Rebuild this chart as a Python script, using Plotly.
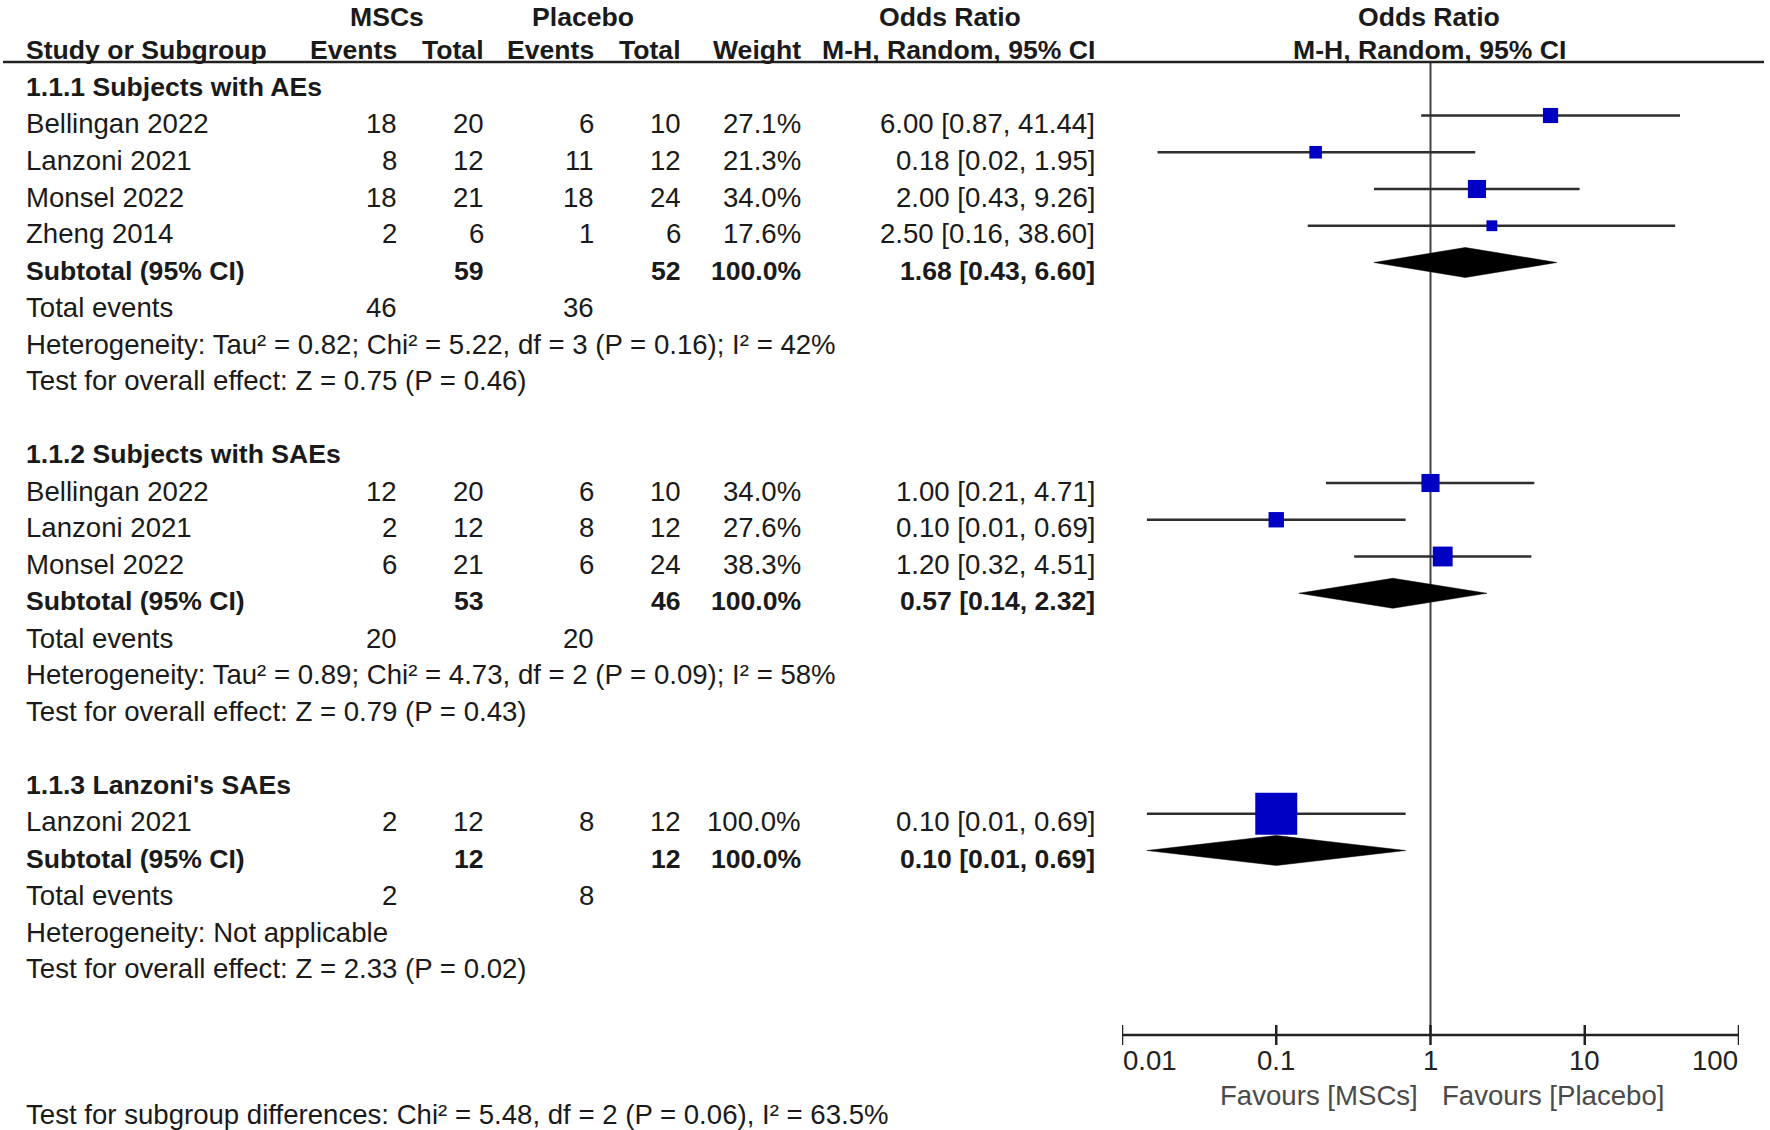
import math
import plotly.graph_objects as go

# ---------------- data ----------------
group_titles = ["1.1.1 Subjects with AEs", "1.1.2 Subjects with SAEs", "1.1.3 Lanzoni's SAEs"]

study_group = [0, 0, 0, 0, 1, 1, 1, 2]
study_names = ["Bellingan 2022", "Lanzoni 2021", "Monsel 2022", "Zheng 2014",
               "Bellingan 2022", "Lanzoni 2021", "Monsel 2022",
               "Lanzoni 2021"]
msc_events = [18, 8, 18, 2, 12, 2, 6, 2]
msc_total = [20, 12, 21, 6, 20, 12, 21, 12]
pla_events = [6, 11, 18, 1, 6, 8, 6, 8]
pla_total = [10, 12, 24, 6, 10, 12, 24, 12]
weights = [27.1, 21.3, 34.0, 17.6, 34.0, 27.6, 38.3, 100.0]
or_est = [6.00, 0.18, 2.00, 2.50, 1.00, 0.10, 1.20, 0.10]
ci_lo = [0.87, 0.017, 0.43, 0.16, 0.21, 0.0145, 0.32, 0.0145]
ci_hi = [41.44, 1.95, 9.26, 38.60, 4.71, 0.69, 4.51, 0.69]

sub_msc_total = [59, 53, 12]
sub_pla_total = [52, 46, 12]
sub_or = [1.68, 0.57, 0.10]
sub_lo = [0.43, 0.14, 0.0145]
sub_hi = [6.60, 2.32, 0.69]
tot_msc_events = [46, 20, 2]
tot_pla_events = [36, 20, 8]

heterogeneity = [
    "Heterogeneity: Tau² = 0.82; Chi² = 5.22, df = 3 (P = 0.16); I² = 42%",
    "Heterogeneity: Tau² = 0.89; Chi² = 4.73, df = 2 (P = 0.09); I² = 58%",
    "Heterogeneity: Not applicable",
]
overall_effect = [
    "Test for overall effect: Z = 0.75 (P = 0.46)",
    "Test for overall effect: Z = 0.79 (P = 0.43)",
    "Test for overall effect: Z = 2.33 (P = 0.02)",
]
subgroup_diff = "Test for subgroup differences: Chi² = 5.48, df = 2 (P = 0.06), I² = 63.5%"

tick_values = [0.01, 0.1, 1, 10, 100]
tick_labels = ["0.01", "0.1", "1", "10", "100"]
favours_left = "Favours [MSCs]"
favours_right = "Favours [Placebo]"

# ---------------- layout constants ----------------
W, H = 1770, 1130
FONT = "Arial, Liberation Sans, sans-serif"
FS = 27.6
FSB = 26.6
TXT = "#1a1a1a"
ROW0, ROWH = 50, 36.75
MOFF = -8  # marks sit slightly above the text centre

X_NAME = 25
X_MSC_EV, X_MSC_TOT, X_PLA_EV, X_PLA_TOT, X_WT, X_OR = 398, 485, 595, 682, 802, 1096
PLOT_L, PLOT_R = 1122, 1739
HEADER_LINE_Y = 62
HEADER1_Y = 17
AXIS_Y = 1035


def ry(i):
    return ROW0 + ROWH * i


annotations = []


def txt(x_px, y, text, anchor="left", bold=False, color=TXT, size=None):
    annotations.append(dict(
        x=x_px / W, xref="paper", y=y, yref="y",
        text=("<b>%s</b>" % text) if bold else text,
        showarrow=False, xanchor=anchor, yanchor="middle",
        font=dict(family=FONT, size=size or (FSB if bold else FS), color=color),
        borderpad=0,
    ))


fig = go.Figure()

# headers
txt(387, HEADER1_Y, "MSCs", "center", True)
txt(583, HEADER1_Y, "Placebo", "center", True)
txt(950, HEADER1_Y, "Odds Ratio", "center", True)
txt(1429, HEADER1_Y, "Odds Ratio", "center", True)
txt(X_NAME, ry(0), "Study or Subgroup", "left", True)
txt(X_MSC_EV, ry(0), "Events", "right", True)
txt(X_MSC_TOT, ry(0), "Total", "right", True)
txt(X_PLA_EV, ry(0), "Events", "right", True)
txt(X_PLA_TOT, ry(0), "Total", "right", True)
txt(X_WT, ry(0), "Weight", "right", True)
txt(X_OR, ry(0), "M-H, Random, 95% CI", "right", True)
txt(1429, ry(0), "M-H, Random, 95% CI", "center", True)


def fmt_ci(o, l, h):
    return "%.2f [%.2f, %.2f]" % (o, l, h)


ci_x, ci_y = [], []
sq_x, sq_y, sq_s = [], [], []
dia_traces = []

row = 1
for g, title in enumerate(group_titles):
    txt(X_NAME, ry(row), title, "left", True)
    row += 1
    for k in range(len(study_names)):
        if study_group[k] != g:
            continue
        y = ry(row)
        txt(X_NAME, y, study_names[k])
        txt(X_MSC_EV, y, str(msc_events[k]), "right")
        txt(X_MSC_TOT, y, str(msc_total[k]), "right")
        txt(X_PLA_EV, y, str(pla_events[k]), "right")
        txt(X_PLA_TOT, y, str(pla_total[k]), "right")
        txt(X_WT, y, "%.1f%%" % weights[k], "right")
        txt(X_OR, y, fmt_ci(or_est[k], ci_lo[k], ci_hi[k]), "right")
        ym = y + MOFF
        ci_x += [ci_lo[k], ci_hi[k], None]
        ci_y += [ym, ym, None]
        sq_x.append(or_est[k])
        sq_y.append(ym)
        sq_s.append(42 * (weights[k] / 100.0) ** 0.78)
        row += 1
    y = ry(row)
    txt(X_NAME, y, "Subtotal (95% CI)", "left", True)
    txt(X_MSC_TOT, y, str(sub_msc_total[g]), "right", True)
    txt(X_PLA_TOT, y, str(sub_pla_total[g]), "right", True)
    txt(X_WT, y, "100.0%", "right", True)
    txt(X_OR, y, fmt_ci(sub_or[g], sub_lo[g], sub_hi[g]), "right", True)
    ym = y + MOFF
    dia_traces.append(go.Scatter(
        x=[sub_lo[g], sub_or[g], sub_hi[g], sub_or[g], sub_lo[g]],
        y=[ym, ym - 15, ym, ym + 15, ym],
        mode="lines", fill="toself", fillcolor="#000000",
        line=dict(color="#000000", width=0.5), hoverinfo="skip", showlegend=False))
    row += 1
    y = ry(row)
    txt(X_NAME, y, "Total events")
    txt(X_MSC_EV, y, str(tot_msc_events[g]), "right")
    txt(X_PLA_EV, y, str(tot_pla_events[g]), "right")
    row += 1
    txt(X_NAME, ry(row), heterogeneity[g])
    row += 1
    txt(X_NAME, ry(row), overall_effect[g])
    row += 2

txt(X_NAME, 1114, subgroup_diff)

# line of no effect
fig.add_trace(go.Scatter(x=[1, 1], y=[HEADER_LINE_Y, AXIS_Y], mode="lines",
                         line=dict(color="#444444", width=2), hoverinfo="skip", showlegend=False))
# CI whiskers
fig.add_trace(go.Scatter(x=ci_x, y=ci_y, mode="lines",
                         line=dict(color="#2e2e2e", width=2.5), hoverinfo="skip", showlegend=False))
# study squares
fig.add_trace(go.Scatter(x=sq_x, y=sq_y, mode="markers",
                         marker=dict(symbol="square", size=sq_s, color="#0000C4", opacity=1,
                                     line=dict(width=0)),
                         hoverinfo="skip", showlegend=False))
for t in dia_traces:
    fig.add_trace(t)

# axis line and ticks
fig.add_trace(go.Scatter(x=[tick_values[0], tick_values[-1]], y=[AXIS_Y, AXIS_Y], mode="lines",
                         line=dict(color="#222222", width=2.5), hoverinfo="skip", showlegend=False))
tx, ty = [], []
for v in tick_values:
    tx += [v, v, None]
    ty += [AXIS_Y - 10, AXIS_Y + 10, None]
fig.add_trace(go.Scatter(x=tx, y=ty, mode="lines",
                         line=dict(color="#222222", width=2.5), hoverinfo="skip", showlegend=False))
for i, (v, lab) in enumerate(zip(tick_values, tick_labels)):
    anchor = "left" if i == 0 else ("right" if i == len(tick_values) - 1 else "center")
    annotations.append(dict(x=math.log10(v), xref="x", y=1060, yref="y", text=lab,
                            showarrow=False, xanchor=anchor, yanchor="middle", borderpad=0,
                            font=dict(family=FONT, size=FS, color="#222222")))
annotations.append(dict(x=0, xref="x", y=1095, yref="y", text=favours_left, xshift=-12,
                        showarrow=False, xanchor="right", yanchor="middle", borderpad=0,
                        font=dict(family=FONT, size=FS, color="#4a4a4a")))
annotations.append(dict(x=0, xref="x", y=1095, yref="y", text=favours_right, xshift=10,
                        showarrow=False, xanchor="left", yanchor="middle", borderpad=0,
                        font=dict(family=FONT, size=FS, color="#4a4a4a")))

fig.update_layout(
    width=W, height=H,
    margin=dict(l=0, r=0, t=0, b=0),
    paper_bgcolor="white", plot_bgcolor="white",
    showlegend=False,
    xaxis=dict(type="log", range=[-2, 2], domain=[PLOT_L / W, PLOT_R / W],
               showgrid=False, zeroline=False, showline=False, showticklabels=False, ticks=""),
    yaxis=dict(range=[H, 0], domain=[0, 1], showgrid=False, zeroline=False,
               showline=False, showticklabels=False, ticks=""),
    annotations=annotations,
    shapes=[dict(type="line", xref="paper", yref="y", x0=3 / W, x1=1764 / W,
                 y0=HEADER_LINE_Y, y1=HEADER_LINE_Y, line=dict(color="#222222", width=2.5))],
)

fig.write_html("out.html", config={"displayModeBar": False},
               post_script="document.body.style.margin='0';document.body.style.overflow='hidden';")
